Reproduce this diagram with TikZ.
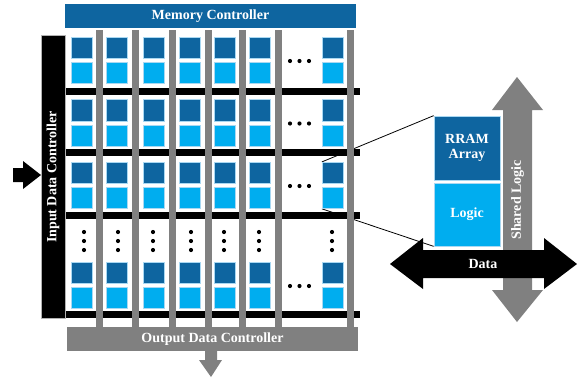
\documentclass[tikz,border=0pt]{standalone}
\usepackage{fontspec}
\setmainfont{Liberation Serif}
\pgfdeclarelayer{background}
\pgfsetlayers{background,main}
\definecolor{dblue}{HTML}{0E65A0}
\definecolor{lblue}{HTML}{00ADEF}
\definecolor{celledge}{HTML}{A9D8F2}
\definecolor{grey}{HTML}{808080}
\begin{document}
\begin{tikzpicture}[x=1pt,y=-1pt,
  lbl/.style={text=white,font=\bfseries\fontsize{14}{15.5}\selectfont,inner sep=0pt,align=center},
  dcell/.style={fill=dblue,draw=celledge,line width=0.7pt,minimum width=21.5pt,minimum height=21.5pt,inner sep=0pt},
  lcell/.style={fill=lblue,draw=celledge,line width=0.7pt,minimum width=21.5pt,minimum height=21pt,inner sep=0pt},
  dotmark/.style={circle,fill=black,minimum size=4.2pt,inner sep=0pt},
  hbus/.style={black,line width=7pt},
  vbus/.style={grey,line width=7pt},
  zoomline/.style={black,line width=0.8pt}]
\useasboundingbox (0,0) rectangle (582,381);

% cells
\foreach \r/\yb in {1/37,2/99.5,3/162,5/262}{
  \foreach \c/\xc in {1/82,2/117,3/154,4/190,5/225,6/260,7/333}{
    \node[dcell] (d\r\c) at (\xc,\yb+11) {};
    \node[lcell] (l\r\c) at (\xc,\yb+36) {};
  }
  \foreach \i/\xd in {1/290,2/299.5,3/309}{
    \node[dotmark] (h\r\i) at (\xd,\yb+24) {};
  }
}
% vertical dots row
\foreach \c/\xc in {1/84,2/118,3/153,4/191,5/224,6/259,7/332}{
  \foreach \i/\yd in {1/232,2/241,3/250}{
    \node[dotmark] (v\c\i) at (\xc,\yd) {};
  }
}

% buses
\foreach \yy in {91.5,152.5,215.5,314.5}{
  \draw[hbus] (65,\yy) -- (360,\yy);
}
\foreach \xx in {99.5,135.5,172.5,208,242.5,278.5,350}{
  \draw[vbus] (\xx,30) -- (\xx,327);
}

% controllers
\node[fill=dblue,minimum width=291pt,minimum height=24pt,inner sep=0pt] (mem) at (210.5,16) {};
\node[lbl] at (mem.center) {Memory Controller};
\node[fill=black,draw=gray!60,line width=0.6pt,minimum width=24pt,minimum height=283pt,inner sep=0pt] (inp) at (53,176.5) {};
\node[lbl,rotate=90] at (53,177) {Input Data Controller};
\node[fill=grey,minimum width=291pt,minimum height=24pt,inner sep=0pt] (outp) at (212.5,339) {};
\node[lbl] at (outp.center) {Output Data Controller};

% input arrow
\fill[black] (13,168) -- (23,168) -- (23,161) -- (41,175) -- (23,189) -- (23,182) -- (13,182) -- cycle;
% output arrow
\fill[grey] (205,351) -- (217,351) -- (217,360) -- (222,360) -- (211,377) -- (199,360) -- (205,360) -- cycle;

% shared logic arrow
\fill[grey] (517,77) -- (543,110) -- (532,110) -- (532,290) -- (543,290) -- (517,322) -- (492,290) -- (503,290) -- (503,110) -- (492,110) -- cycle;
\node[lbl,rotate=90] (shared) at (517.5,200) {Shared Logic};

% zoomed cell
\node[fill=dblue,draw=celledge,line width=0.7pt,minimum width=66pt,minimum height=64pt,inner sep=0pt] (rram) at (467,148) {};
\node[lbl] at (rram.center) {RRAM\\[-1pt]Array};
\node[fill=lblue,draw=celledge,line width=0.7pt,minimum width=66pt,minimum height=63pt,inner sep=0pt] (logic) at (467,214.5) {};
\node[lbl] at (logic.center) {Logic};

% data arrow
\fill[black] (390,264) -- (423,238) -- (423,250) -- (544,250) -- (544,238) -- (577,264) -- (544,289) -- (544,278) -- (423,278) -- (423,289) -- cycle;
\node[lbl] (data) at (483,264) {Data};

% zoom lines
\begin{pgfonlayer}{background}
\draw[zoomline] (d37.north west) -- (rram.north west);
\draw[zoomline] (l37.south west) -- (logic.south west);
\end{pgfonlayer}
\end{tikzpicture}
\end{document}
